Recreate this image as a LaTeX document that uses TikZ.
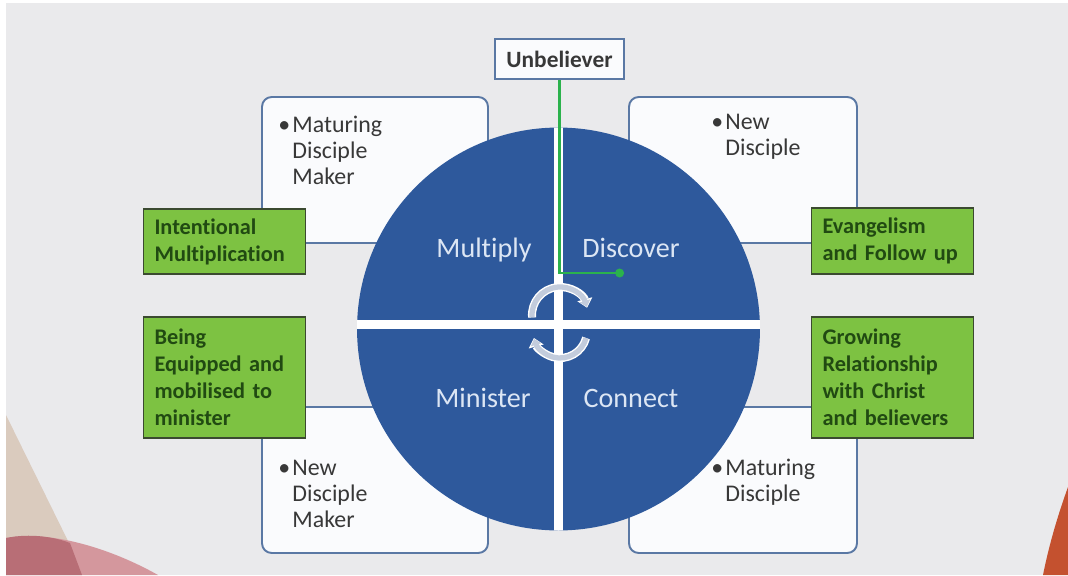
\documentclass[tikz,border=0pt]{standalone}
\usepackage{fontspec}
\setmainfont{Carlito}[Ligatures={NoCommon}]
\usetikzlibrary{arrows.meta}
\definecolor{bgc}{HTML}{EAEAEC}
\definecolor{wfill}{HTML}{FAFBFD}
\definecolor{wline}{HTML}{5A78A4}
\definecolor{cblue}{HTML}{2E599C}
\definecolor{qtext}{HTML}{DCE6F4}
\definecolor{gfill}{HTML}{7DC242}
\definecolor{gline}{HTML}{3B4A30}
\definecolor{gtext}{HTML}{214A12}
\definecolor{grline}{HTML}{2BB24C}
\definecolor{arccol}{HTML}{C3CCDC}
\definecolor{tanc}{HTML}{DACBBE}
\definecolor{pinkc}{HTML}{D4979D}
\definecolor{mauvec}{HTML}{B86E76}
\definecolor{redc}{HTML}{C4512F}
\definecolor{darktext}{HTML}{383838}
\tikzset{
  wbox/.style={draw=wline, line width=1.1pt, fill=wfill, rounded corners=5.5pt, inner sep=0pt},
  gbox/.style={draw=gline, line width=1.1pt, fill=gfill, inner xsep=0.22cm, inner ysep=0pt,
    text width=2.8cm, align=left, text=gtext, font=\fontsize{12.7pt}{15.3pt}\selectfont\bfseries},
  wtext/.style={anchor=base west, inner sep=0pt, text width=4cm, align=left, text=darktext,
    font=\fontsize{13.6pt}{15pt}\selectfont},
  qlabel/.style={anchor=base, inner sep=0pt, text=qtext, font=\fontsize{16pt}{18pt}\selectfont},
  grconn/.style={draw=grline, line width=1.7pt, -{Circle[length=5pt]}},
  arcout/.style={draw=white, line width=4.6pt},
  arcin/.style={draw=arccol, line width=3pt},
}
\newcommand{\bul}{\makebox[8pt][l]{•}}
\newcommand{\ind}{\hspace*{8pt}}
\begin{document}
\begin{tikzpicture}[x=0.02cm,y=-0.02cm]
\useasboundingbox (0,0) rectangle (1068,575);
% background
\fill[white] (0,0) rectangle (1068,575);
\fill[bgc] (6,3) rectangle (1068,575);
\fill[tanc] (6,415) -- (70,545) -- (6,545) -- cycle;
\fill[pinkc] (6,538) .. controls (50,530) and (110,548) .. (158,575) -- (6,575) -- cycle;
\fill[mauvec] (6,538) .. controls (30,533) and (55,537) .. (70,543) -- (82,575) -- (6,575) -- cycle;
\fill[redc] (1068,487) .. controls (1056,520) and (1048,550) .. (1043,575) -- (1068,575) -- cycle;
% white boxes
\node[wbox, minimum width=4.52cm, minimum height=2.92cm] (tl) at (375,170) {};
\node[wbox, minimum width=4.56cm, minimum height=2.92cm] (tr) at (743,170) {};
\node[wbox, minimum width=4.52cm, minimum height=2.92cm] (bl) at (375,480) {};
\node[wbox, minimum width=4.56cm, minimum height=2.92cm] (br) at (743,480) {};
\node[wtext] (tlt) at (278,132) {\bul Maturing\\\ind Disciple\\\ind Maker};
\node[wtext] (trt) at (711,129) {\bul New\\\ind Disciple};
\node[wtext] (blt) at (278,475) {\bul New\\\ind Disciple\\\ind Maker};
\node[wtext] (brt) at (711,475) {\bul Maturing\\\ind Disciple};
% circle
\node[circle, fill=cblue, minimum size=8.06cm, inner sep=0pt] (circ) at (558.5,329) {};
\begin{scope}
\clip (558.5,329) circle[radius=201.5];
\fill[white] (554,120) rectangle (563,540);
\fill[white] (350,320) rectangle (770,328.5);
\end{scope}
% green connector
\node[draw=wline, line width=1.1pt, fill=wfill, minimum width=2.58cm, minimum height=0.8cm,
  inner sep=0pt, text=darktext, font=\fontsize{13.3pt}{15pt}\selectfont\bfseries] (unb) at (559.5,59) {Unbeliever};
\coordinate (dotend) at (624,273);
\draw[grconn] (unb.south) |- (dotend);
% cycle arrows
\coordinate (ca) at (560,315);
\coordinate (cb) at (560,331);
\draw[arcout, -{Triangle[length=5pt,width=8.5pt]}] (ca) ++(-185:28) arc[start angle=-185, end angle=-15, radius=28];
\draw[arcin, -{Triangle[length=3.5pt,width=6pt]}] (ca) ++(-185:28) arc[start angle=-185, end angle=-17, radius=28];
\draw[arcout, -{Triangle[length=5pt,width=8.5pt]}] (cb) ++(15:27) arc[start angle=15, end angle=165, radius=27];
\draw[arcin, -{Triangle[length=3.5pt,width=6pt]}] (cb) ++(15:27) arc[start angle=15, end angle=163, radius=27];
% quadrant labels
\node[qlabel] (mul) at (484,257) {Multiply};
\node[qlabel] (dis) at (631,257) {Discover};
\node[qlabel] (min) at (483,407) {Minister};
\node[qlabel] (con) at (631,407) {Connect};
% green boxes
\node[gbox, minimum width=3.22cm, minimum height=1.3cm] (im) at (224.5,241.5) {Intentional\\Multiplication};
\node[gbox, minimum width=3.22cm, minimum height=1.32cm] (ef) at (892.5,241) {Evangelism\\and Follow up};
\node[gbox, minimum width=3.22cm, minimum height=2.42cm] (be) at (224.5,377.5) {Being\\Equipped and\\mobilised to\\minister};
\node[gbox, minimum width=3.22cm, minimum height=2.42cm] (gr) at (892.5,377.5) {Growing\\Relationship\\with Christ\\and believers};
\end{tikzpicture}
\end{document}
